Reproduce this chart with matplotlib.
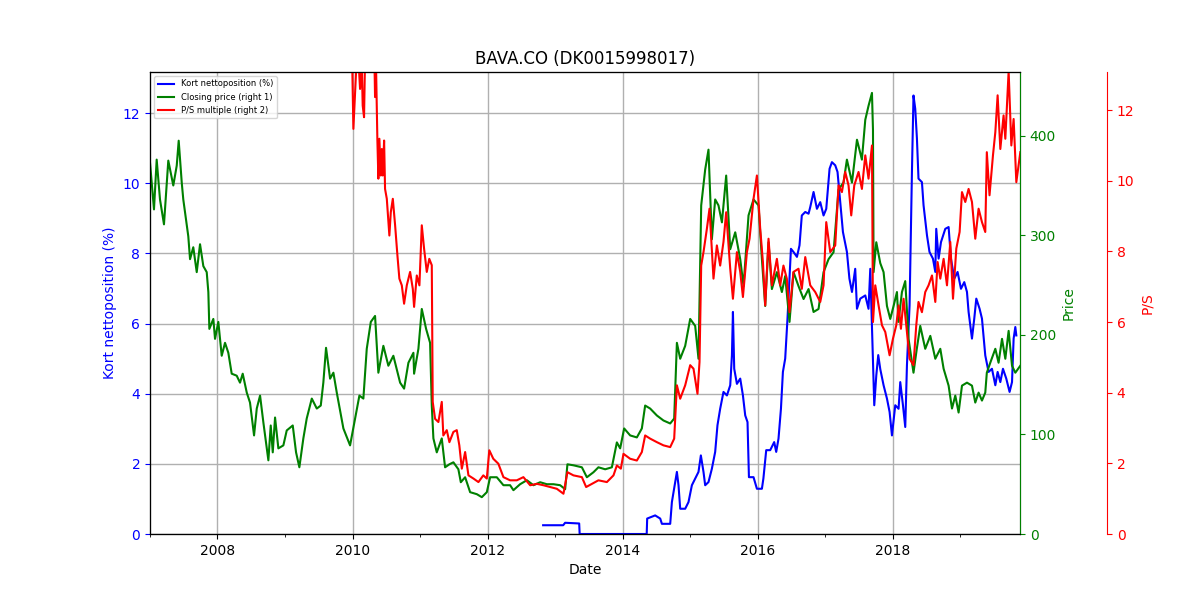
import matplotlib
matplotlib.use("Agg")
import matplotlib.pyplot as plt
import matplotlib.dates as mdates
import numpy as np
import pandas as pd

# ---- data (decimal years) ----
price_t = [2007.000, 2007.059, 2007.099, 2007.148, 2007.207, 2007.271, 2007.345, 2007.396, 2007.425, 2007.470,
           2007.493, 2007.533, 2007.567, 2007.593, 2007.641, 2007.692, 2007.741, 2007.790, 2007.840, 2007.864,
           2007.879, 2007.938, 2007.963, 2008.012, 2008.062, 2008.111, 2008.160, 2008.210, 2008.284, 2008.333,
           2008.373, 2008.433, 2008.481, 2008.541, 2008.581, 2008.630, 2008.679, 2008.753, 2008.788, 2008.818,
           2008.852, 2008.901, 2008.975, 2009.025, 2009.114, 2009.163, 2009.212, 2009.271, 2009.321, 2009.396,
           2009.470, 2009.529, 2009.567, 2009.607, 2009.667, 2009.716, 2009.766, 2009.864, 2009.963, 2010.037,
           2010.101, 2010.160, 2010.210, 2010.270, 2010.333, 2010.382, 2010.456, 2010.530, 2010.604, 2010.704,
           2010.763, 2010.827, 2010.901, 2010.911, 2010.975, 2011.025, 2011.089, 2011.148, 2011.173, 2011.197,
           2011.247, 2011.321, 2011.370, 2011.434, 2011.493, 2011.567, 2011.603, 2011.667, 2011.741, 2011.840,
           2011.914, 2011.988, 2012.037, 2012.136, 2012.234, 2012.333, 2012.382, 2012.481, 2012.581, 2012.679,
           2012.778, 2012.877, 2012.975, 2013.074, 2013.148, 2013.182, 2013.271, 2013.396, 2013.470, 2013.567,
           2013.641, 2013.741, 2013.840, 2013.914, 2013.963, 2014.022, 2014.111, 2014.210, 2014.284, 2014.333,
           2014.407, 2014.507, 2014.604, 2014.704, 2014.763, 2014.803, 2014.852, 2014.926, 2015.000, 2015.074,
           2015.123, 2015.163, 2015.222, 2015.271, 2015.321, 2015.370, 2015.419, 2015.470, 2015.533, 2015.593,
           2015.667, 2015.741, 2015.790, 2015.864, 2015.938, 2016.012, 2016.062, 2016.111, 2016.160, 2016.210,
           2016.284, 2016.358, 2016.407, 2016.471, 2016.530, 2016.604, 2016.679, 2016.753, 2016.827, 2016.901,
           2016.975, 2017.049, 2017.123, 2017.197, 2017.271, 2017.321, 2017.396, 2017.470, 2017.543, 2017.593,
           2017.641, 2017.692, 2017.707, 2017.716, 2017.756, 2017.815, 2017.864, 2017.914, 2017.963, 2018.012,
           2018.062, 2018.084, 2018.136, 2018.185, 2018.234, 2018.307, 2018.356, 2018.407, 2018.481, 2018.556,
           2018.630, 2018.704, 2018.753, 2018.827, 2018.877, 2018.926, 2018.975, 2019.025, 2019.099, 2019.173,
           2019.222, 2019.271, 2019.321, 2019.370, 2019.393, 2019.444, 2019.519, 2019.567, 2019.618, 2019.667,
           2019.716, 2019.766, 2019.815, 2019.889]
price_v = [373, 326, 376, 336, 311, 375, 350, 370, 395, 353,
           336, 316, 299, 276, 288, 263, 291, 269, 263, 243,
           206, 216, 196, 213, 179, 192, 182, 161, 159, 152,
           161, 142, 132, 99, 126, 139, 112, 74, 109, 82,
           117, 86, 89, 104, 109, 82, 67, 96, 116, 136,
           126, 129, 152, 187, 156, 162, 142, 106, 89, 116,
           139, 136, 186, 213, 219, 162, 189, 169, 179, 152,
           146, 172, 182, 161, 186, 226, 206, 192, 129, 96,
           82, 96, 67, 70, 72, 65, 52, 57, 42, 40,
           37, 42, 57, 57, 49, 49, 44, 50, 54, 49,
           52, 50, 50, 49, 45, 70, 69, 67, 57, 62,
           67, 65, 67, 92, 86, 106, 99, 97, 106, 129,
           126, 119, 114, 111, 116, 192, 176, 189, 216, 209,
           176, 330, 366, 386, 296, 336, 330, 313, 360, 286,
           303, 276, 249, 320, 336, 330, 276, 229, 293, 246,
           263, 243, 259, 213, 263, 249, 236, 246, 223, 226,
           263, 276, 283, 346, 353, 376, 353, 396, 376, 416,
           430, 443, 406, 263, 293, 272, 263, 229, 216, 229,
           243, 213, 243, 254, 196, 162, 186, 209, 186, 199,
           176, 186, 166, 149, 126, 139, 122, 149, 152, 149,
           132, 142, 134, 142, 162, 172, 186, 172, 196, 176,
           204, 169, 162, 169]

ps_t = [2009.993, 2010.012, 2010.037, 2010.062, 2010.085, 2010.111, 2010.136, 2010.150, 2010.170, 2010.185,
        2010.259, 2010.323, 2010.333, 2010.348, 2010.367, 2010.382, 2010.397, 2010.418, 2010.433, 2010.447,
        2010.467, 2010.481, 2010.507, 2010.545, 2010.566, 2010.596, 2010.630, 2010.664, 2010.693, 2010.729,
        2010.763, 2010.803, 2010.852, 2010.892, 2010.911, 2010.951, 2010.990, 2011.025, 2011.059, 2011.099,
        2011.136, 2011.173, 2011.187, 2011.222, 2011.271, 2011.321, 2011.344, 2011.395, 2011.434, 2011.493,
        2011.543, 2011.581, 2011.618, 2011.667, 2011.716, 2011.790, 2011.864, 2011.936, 2011.988, 2012.025,
        2012.084, 2012.159, 2012.234, 2012.333, 2012.432, 2012.530, 2012.630, 2012.729, 2012.827, 2012.926,
        2013.025, 2013.123, 2013.182, 2013.271, 2013.396, 2013.459, 2013.544, 2013.641, 2013.766, 2013.864,
        2013.914, 2013.973, 2014.012, 2014.111, 2014.210, 2014.284, 2014.333, 2014.407, 2014.507, 2014.604,
        2014.704, 2014.763, 2014.803, 2014.852, 2014.926, 2015.000, 2015.049, 2015.108, 2015.138, 2015.163,
        2015.197, 2015.247, 2015.286, 2015.345, 2015.395, 2015.444, 2015.493, 2015.533, 2015.593, 2015.633,
        2015.692, 2015.741, 2015.781, 2015.840, 2015.879, 2015.938, 2015.988, 2016.037, 2016.077, 2016.111,
        2016.160, 2016.210, 2016.284, 2016.333, 2016.381, 2016.431, 2016.471, 2016.530, 2016.604, 2016.653,
        2016.704, 2016.778, 2016.852, 2016.926, 2016.975, 2017.015, 2017.074, 2017.148, 2017.197, 2017.247,
        2017.296, 2017.345, 2017.385, 2017.430, 2017.493, 2017.543, 2017.593, 2017.641, 2017.692, 2017.707,
        2017.741, 2017.790, 2017.840, 2017.889, 2017.953, 2018.003, 2018.052, 2018.086, 2018.121, 2018.160,
        2018.200, 2018.249, 2018.307, 2018.348, 2018.381, 2018.432, 2018.481, 2018.530, 2018.581, 2018.630,
        2018.664, 2018.704, 2018.753, 2018.803, 2018.852, 2018.892, 2018.941, 2018.990, 2019.025, 2019.074,
        2019.123, 2019.173, 2019.222, 2019.271, 2019.321, 2019.370, 2019.393, 2019.433, 2019.484, 2019.519,
        2019.553, 2019.593, 2019.641, 2019.667, 2019.716, 2019.756, 2019.790, 2019.830, 2019.864, 2019.889]
ps_v = [13.5, 11.47, 12.5, 13.5, 13.5, 12.6, 13.3, 12.13, 11.8, 13.5,
        14.0, 13.5, 12.37, 13.2, 11.19, 10.06, 11.19, 10.15, 10.9, 10.15,
        11.14, 9.77, 9.49, 8.45, 9.11, 9.49, 8.74, 7.89, 7.23, 7.04,
        6.52, 7.04, 7.42, 6.94, 6.43, 7.32, 7.04, 8.74, 8.08, 7.42,
        7.79, 7.61, 3.74, 3.26, 3.17, 3.74, 2.79, 2.94, 2.6, 2.89,
        2.94, 2.51, 1.85, 2.32, 1.66, 1.57, 1.47, 1.66, 1.57, 2.37,
        2.13, 1.99, 1.61, 1.52, 1.52, 1.61, 1.38, 1.42, 1.38, 1.33,
        1.28, 1.14, 1.75, 1.66, 1.61, 1.33, 1.42, 1.52, 1.47, 1.66,
        1.94, 1.85, 2.27, 2.13, 2.08, 2.32, 2.79, 2.7, 2.6, 2.51,
        2.46, 2.7, 4.21, 3.83, 4.21, 4.78, 4.68, 3.97, 4.87, 7.6,
        7.98, 8.64, 9.21, 7.23, 8.17, 7.6, 8.27, 9.11, 7.51, 6.66,
        7.98, 7.42, 6.71, 7.98, 8.36, 9.49, 10.15, 8.64, 7.7, 6.47,
        8.36, 7.04, 7.79, 7.04, 7.6, 7.23, 6.28, 7.42, 7.51, 6.94,
        7.84, 7.04, 6.85, 6.57, 7.04, 8.83, 7.98, 8.17, 9.87, 9.68,
        10.25, 9.87, 9.02, 9.87, 10.25, 9.77, 10.72, 10.06, 11.0, 6.0,
        7.04, 6.47, 5.91, 5.72, 5.06, 5.53, 5.91, 6.47, 5.81, 6.66,
        5.91, 4.96, 4.78, 5.91, 6.57, 6.28, 6.85, 7.04, 7.32, 6.57,
        7.7, 7.23, 7.79, 7.04, 8.27, 6.66, 8.08, 8.55, 9.68, 9.4,
        9.77, 9.4, 8.36, 9.21, 8.83, 8.55, 10.81, 9.59, 10.72, 11.38,
        12.42, 10.9, 11.85, 11.19, 13.1, 11.0, 11.75, 9.96, 10.44, 10.81]

short_t = [2012.822, 2013.119, 2013.148, 2013.356, 2013.363, 2014.356, 2014.363, 2014.481, 2014.556, 2014.581,
           2014.704, 2014.729, 2014.778, 2014.803, 2014.827, 2014.852, 2014.926, 2014.975, 2015.025, 2015.074,
           2015.123, 2015.158, 2015.197, 2015.222, 2015.271, 2015.321, 2015.370, 2015.404, 2015.444, 2015.493,
           2015.544, 2015.593, 2015.618, 2015.633, 2015.652, 2015.692, 2015.741, 2015.781, 2015.815, 2015.849,
           2015.870, 2015.938, 2015.988, 2016.062, 2016.084, 2016.126, 2016.185, 2016.244, 2016.274, 2016.308,
           2016.344, 2016.373, 2016.407, 2016.441, 2016.471, 2016.492, 2016.530, 2016.581, 2016.619, 2016.653,
           2016.704, 2016.753, 2016.778, 2016.827, 2016.877, 2016.926, 2016.975, 2017.015, 2017.064, 2017.099,
           2017.148, 2017.182, 2017.222, 2017.262, 2017.321, 2017.358, 2017.396, 2017.444, 2017.470, 2017.519,
           2017.593, 2017.641, 2017.667, 2017.692, 2017.726, 2017.756, 2017.785, 2017.815, 2017.864, 2017.914,
           2017.953, 2017.988, 2018.037, 2018.086, 2018.111, 2018.151, 2018.185, 2018.210, 2018.249, 2018.284,
           2018.307, 2018.333, 2018.358, 2018.381, 2018.432, 2018.456, 2018.507, 2018.544, 2018.595, 2018.630,
           2018.644, 2018.679, 2018.714, 2018.778, 2018.827, 2018.862, 2018.911, 2018.960, 2019.010, 2019.059,
           2019.099, 2019.123, 2019.173, 2019.207, 2019.237, 2019.286, 2019.321, 2019.370, 2019.419, 2019.469,
           2019.519, 2019.553, 2019.593, 2019.632, 2019.681, 2019.730, 2019.766, 2019.790, 2019.815, 2019.830]
short_v = [0.25, 0.25, 0.32, 0.30, 0.0, 0.0, 0.44, 0.53, 0.44, 0.29,
           0.29, 0.91, 1.48, 1.77, 1.39, 0.72, 0.72, 0.91, 1.39, 1.58,
           1.77, 2.24, 1.77, 1.39, 1.48, 1.86, 2.34, 3.1, 3.57, 4.05,
           3.95, 4.24, 5.09, 6.33, 4.71, 4.28, 4.43, 3.95, 3.38, 3.19,
           1.62, 1.62, 1.29, 1.29, 1.58, 2.39, 2.39, 2.62, 2.34, 2.72,
           3.57, 4.62, 5.0, 6.14, 7.28, 8.13, 8.04, 7.9, 8.23, 9.08,
           9.18, 9.13, 9.32, 9.75, 9.27, 9.46, 9.08, 9.27, 10.41, 10.6,
           10.51, 10.32, 9.46, 8.61, 8.04, 7.28, 6.9, 7.56, 6.42, 6.71,
           6.8, 6.42, 7.56, 5.95, 3.67, 4.52, 5.1, 4.7, 4.24, 3.86,
           3.48, 2.81, 3.67, 3.57, 4.33, 3.67, 3.05, 4.81, 6.52, 10.32,
           12.5, 12.12, 11.27, 10.13, 10.03, 9.37, 8.51, 8.04, 7.85, 7.47,
           8.7, 7.85, 8.32, 8.7, 8.75, 7.85, 7.28, 7.47, 6.99, 7.18,
           6.9, 6.33, 5.57, 6.14, 6.71, 6.42, 6.14, 5.09, 4.62, 4.71,
           4.24, 4.62, 4.33, 4.71, 4.43, 4.05, 4.33, 5.57, 5.9, 5.66]


def to_dates(years):
    y = np.asarray(years, dtype=float)
    return pd.to_datetime("2007-01-01") + pd.to_timedelta((y - 2007.0) * 365.25, unit="D")


fig = plt.figure(figsize=(12, 6), dpi=100)
ax1 = fig.add_axes([0.125, 0.11, 0.725, 0.77])
ax2 = ax1.twinx()
ax3 = ax1.twinx()
ax3.spines["right"].set_position(("axes", 1.1))

l1, = ax1.plot(to_dates(short_t), short_v, color="blue", lw=1.5, label="Kort nettoposition (%)")
l2, = ax2.plot(to_dates(price_t), price_v, color="green", lw=1.5, label="Closing price (right 1)")
l3, = ax3.plot(to_dates(ps_t), ps_v, color="red", lw=1.5, label="P/S multiple (right 2)")

ax1.set_xlim(pd.Timestamp("2007-01-01"), pd.Timestamp("2019-11-20"))
ax1.set_ylim(0, 13.17)
ax2.set_ylim(0, 464)
ax3.set_ylim(0, 13.08)

ax1.xaxis.set_major_locator(mdates.YearLocator(2))
ax1.xaxis.set_minor_locator(mdates.YearLocator(1))
ax1.xaxis.set_major_formatter(mdates.DateFormatter("%Y"))
ax1.grid(True, which="major", color="#b0b0b0", lw=1.0)

ax1.set_title("BAVA.CO (DK0015998017)")
ax1.set_xlabel("Date")
ax1.set_ylabel("Kort nettoposition (%)", color="blue")
ax2.set_ylabel("Price", color="green")
ax3.set_ylabel("P/S", color="red")
ax1.tick_params(axis="y", colors="blue")
ax2.tick_params(axis="y", colors="green")
ax3.tick_params(axis="y", colors="red")
ax2.spines["right"].set_color("green")
ax3.spines["right"].set_color("red")

ax1.legend(handles=[l1, l2, l3], loc="upper left", fontsize=6)

fig.savefig("out.png", dpi=100)
